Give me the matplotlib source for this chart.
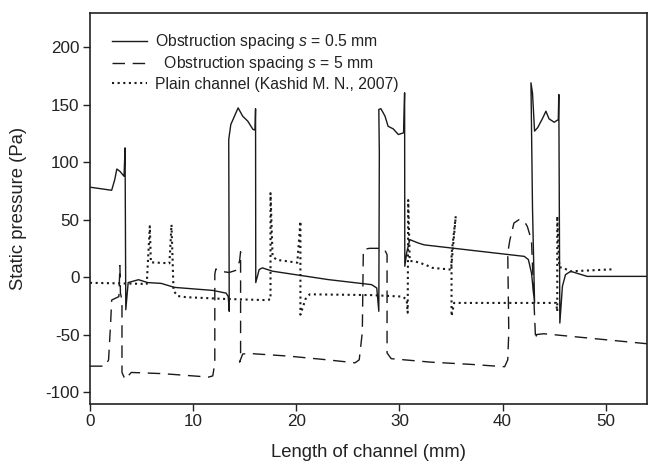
import matplotlib
matplotlib.use("Agg")
import matplotlib.pyplot as plt

plt.rcParams['font.family'] = ['Liberation Sans', 'DejaVu Sans']
plt.rcParams['mathtext.fontset'] = 'custom'
plt.rcParams['mathtext.it'] = 'Liberation Sans:italic'
plt.rcParams['mathtext.rm'] = 'Liberation Sans'
plt.rcParams['axes.unicode_minus'] = False

# Obstruction spacing s = 0.5 mm (solid)
x_s05 = [0, 2.1, 2.4, 2.6, 2.9, 3.3, 3.4, 3.47, 3.7, 4.7, 5.6, 6.9, 8.2, 11.9, 13.2, 13.4, 13.5,
         13.45, 13.65, 14.36, 14.8, 15.3, 15.8, 16.0, 16.05, 16.07, 16.4, 16.7, 17.7, 23.1, 27.3,
         27.8, 28.0, 28.05, 28.0, 28.2, 28.6, 28.9, 29.4, 29.9, 30.4, 30.5, 30.52, 30.7, 31.0,
         31.8, 32.4, 42.1, 42.5, 42.8, 43.1, 42.9, 42.75, 42.9, 43.1, 43.4, 43.9, 44.2, 44.5,
         45.0, 45.4, 45.45, 45.55, 45.8, 46.1, 46.6, 48.2, 54.0]
y_s05 = [78.2, 75.5, 84.8, 94, 92, 87.7, 112.4, -28.4, -4.8, -2.3, -4.8, -5.5, -9, -11.6, -14, -17,
         -29.8, 119.6, 132.7, 147.2, 140, 135.6, 128.4, 128, 146.4, -4.8, 6.5, 8, 5.1, -2.2, -6.6,
         -9.5, -29.8, 108, 145.8, 146.5, 140, 131.2, 128.9, 124, 125.5, 160.3, 9.4, 21, 32.6,
         29.7, 28, 18, 15.2, 3.6, -22.5, 60, 169, 160, 127, 130, 138.5, 144.3, 137.7,
         134.7, 137, 158.8, -40, -8, 2.1, 5, 0.6, 0.6]

# Obstruction spacing s = 5 mm (dashed)
x_s5 = [0, 1.5, 1.8, 2.0, 2.1, 2.8, 2.9, 2.95, 3.1, 3.1, 3.4, 3.7, 4.0, 7.0, 10.0, 11.5, 11.9, 12.1,
        12.1, 12.2, 12.6, 13.5, 14.2, 14.5, 14.6, 14.6, 14.6, 14.5, 14.8, 15.3, 19.3, 23.0, 25.7,
        26.1, 26.4, 26.5, 27.1, 28.5, 28.8, 28.8, 29.2, 33.0, 37.0, 40.2, 40.5, 40.6, 40.5, 40.7,
        41.1, 41.6, 42.1, 42.4, 42.8, 43.1, 43.2, 43.3, 44.0, 54.0]
y_s5 = [-77.5, -77.5, -72, -40, -20, -17, 10, -14, -20, -83, -89, -86, -83, -84, -86, -87, -86, -75,
        2.5, 7, 5, 4, 6, 14, 22, -30, -70, -74, -67, -66.4, -68.8, -72, -74.6,
        -72, -48, 24, 25, 25, 19.5, -66, -71, -74, -76, -78, -72, -48, 21, 32,
        47, 50, 48.6, 44, 32, -34, -54.5, -50, -49.3, -58]

# Plain channel (Kashid M. N., 2007) (dotted)
x_plain = [0, 3, 5.5, 5.8, 5.9, 7.7, 7.9, 8.1, 8.5, 9.3, 13, 16.9, 17.5, 17.5, 17.7, 18.1, 20.1,
           20.4, 20.4, 20.9, 21.3, 27.3, 30.3, 30.7, 30.8, 30.85, 31.0, 31.5, 32.5, 33.2, 35.0,
           35.46, 35.05, 35.05, 35.3, 45.2, 45.3, 45.3, 45.5, 45.8, 46.6, 50.8]
y_plain = [-5, -5.5, -6, 44.2, 12.8, 12, 45.6, -12, -16.5, -17.5, -19, -20, -19.5, 73, 18, 15, 12.5,
           48.5, -32.7, -19, -15, -15.7, -17, -19.6, -31, 67, 14, 13.7, 10.8, 8, 6.5,
           53, 20, -34, -22.5, -22.5, -30, 53, 8.5, 8.2, 5, 6.8]

labels = [r'Obstruction spacing $s$ = 0.5 mm',
          r'  Obstruction spacing $s$ = 5 mm',
          'Plain channel (Kashid M. N., 2007)']
x_ticks = [0, 10, 20, 30, 40, 50]
y_ticks = [-100, -50, 0, 50, 100, 150, 200]

fig = plt.figure(figsize=(6.5, 4.68), dpi=100)
ax = fig.add_axes([90/650, 1 - 403.5/468, (647 - 90)/650, (403.5 - 12.7)/468])

col = '#1a1a1a'
ax.plot(x_s05, y_s05, color=col, lw=1.0, ls='-', label=labels[0])
ax.plot(x_s5, y_s5, color=col, lw=1.0, ls=(0, (9, 5.5)), label=labels[1])
ax.plot(x_plain, y_plain, color=col, lw=1.5, ls=(0, (1, 1.7)), label=labels[2])

ax.set_xlim(0, 54)
ax.set_ylim(-110, 230)
ax.set_xticks(x_ticks)
ax.set_yticks(y_ticks)
ax.tick_params(direction='out', length=5, width=1, labelsize=12.3, colors='#222', pad=2.5)
for sp in ax.spines.values():
    sp.set_linewidth(1.2)
    sp.set_color('#222')

ax.set_xlabel('Length of channel (mm)', fontsize=13.3, color='#222', labelpad=11)
ax.set_ylabel('Static pressure (Pa)', fontsize=13.3, color='#222', labelpad=13)

leg = ax.legend(loc='upper left', bbox_to_anchor=(0.04, 0.95), frameon=False, fontsize=11.3,
                handlelength=2.2, handletextpad=0.5, labelspacing=0.2, borderaxespad=0,
                borderpad=0)
for t in leg.get_texts():
    t.set_color('#222')

fig.savefig('out.png', dpi=100)
